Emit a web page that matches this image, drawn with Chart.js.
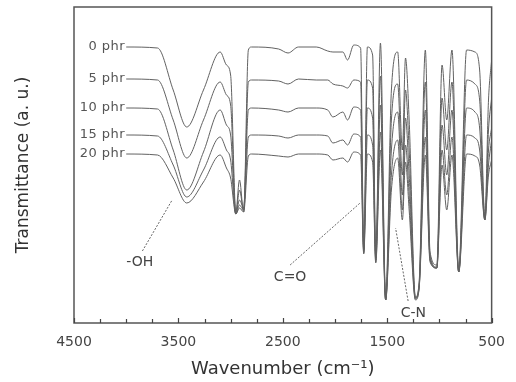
<!DOCTYPE html>
<html>
<head>
<meta charset="utf-8">
<script src="https://cdn.jsdelivr.net/npm/chart.js@4.4.1/dist/chart.umd.min.js"></script>
<style>
  html, body { margin: 0; padding: 0; background: #fff; }
  #wrap { width: 516px; height: 382px; }
</style>
</head>
<body>
<div id="wrap"><canvas id="ftirChart" width="516" height="382"></canvas></div>
<script>
// wavenumbers (cm-1) shared by all spectra
const wavenumbers = [4000, 3700, 3550, 3420, 3260, 3100, 3040, 3000, 2950, 2915, 2875, 2830, 2800, 2540, 2450, 2350, 2180, 2070, 2020, 1925, 1880, 1820, 1755, 1725, 1690, 1640, 1610, 1565, 1515, 1460, 1400, 1355, 1325, 1290, 1230, 1195, 1135, 1090, 1025, 975, 930, 880, 815, 740, 660, 615, 565, 530, 500];

const seriesNames = ['0 phr', '5 phr', '10 phr', '15 phr', '20 phr'];

// transmittance, arbitrary units (curves stacked with an offset)
const phr0  = [276, 275, 233, 196, 233, 271, 258, 248, 111, 143, 111, 273, 276, 274, 270, 276, 276, 272, 271, 271, 263, 278, 275, 75, 276, 268, 68, 280, 25, 233, 271, 173, 265, 203, 26, 40, 273, 71, 58, 258, 203, 273, 53, 273, 271, 253, 106, 223, 263];
const phr5  = [244, 243, 203, 165, 203, 241, 228, 218, 109, 133, 113, 241, 243, 242, 239, 244, 243, 243, 239, 237, 235, 243, 241, 73, 243, 235, 65, 247, 23, 203, 239, 148, 233, 173, 25, 38, 241, 68, 56, 225, 173, 241, 51, 243, 239, 223, 105, 193, 225];
const phr10 = [215, 214, 173, 133, 171, 213, 198, 188, 109, 123, 115, 213, 215, 213, 211, 215, 215, 213, 206, 211, 203, 216, 213, 71, 215, 205, 63, 218, 23, 173, 211, 128, 205, 148, 25, 36, 213, 65, 55, 198, 148, 213, 51, 215, 211, 195, 103, 173, 195];
const phr15 = [188, 187, 158, 126, 153, 186, 173, 163, 109, 118, 113, 186, 188, 187, 185, 188, 188, 187, 180, 183, 178, 189, 186, 70, 188, 178, 61, 191, 23, 148, 183, 113, 178, 128, 24, 35, 186, 63, 55, 173, 128, 186, 51, 188, 185, 173, 103, 158, 183];
const phr20 = [169, 168, 145, 120, 141, 168, 155, 145, 109, 115, 111, 167, 169, 167, 166, 169, 169, 168, 163, 165, 161, 171, 168, 69, 169, 161, 60, 173, 23, 133, 165, 103, 161, 113, 23, 34, 168, 61, 55, 158, 113, 168, 51, 169, 167, 158, 103, 148, 163];

const xLabels = [4500, 3500, 2500, 1500, 500];

// band labels: text, text position, pointer end (data coords)
const bands = [
  { text: '-OH', x: 3870, y: 61, from: [3845, 72], to: [3560, 123] },
  { text: 'C=O', x: 2430, y: 46, from: [2430, 58], to: [1760, 120] },
  { text: 'C-N', x: 1250, y: 10, from: [1300, 22], to: [1420, 95] }
];

const allSeries = [phr0, phr5, phr10, phr15, phr20];
const font = '"DejaVu Sans", Verdana, sans-serif';

const datasets = allSeries.map((vals, i) => ({
  label: seriesNames[i],
  data: wavenumbers.map((w, j) => ({ x: w, y: vals[j] })),
  borderColor: '#626262',
  borderWidth: 1,
  pointRadius: 0,
  fill: false,
  cubicInterpolationMode: 'monotone'
}));

const decorations = {
  id: 'decorations',
  afterDatasetsDraw(chart) {
    const ctx = chart.ctx;
    const a = chart.chartArea;
    const xs = chart.scales.x, ys = chart.scales.y;
    ctx.save();
    // frame
    ctx.strokeStyle = '#555';
    ctx.lineWidth = 1.5;
    ctx.strokeRect(a.left, a.top, a.right - a.left, a.bottom - a.top);
    // inward tick marks
    ctx.lineWidth = 1.2;
    ctx.strokeStyle = '#444';
    xs.ticks.forEach(t => {
      const px = Math.round(xs.getPixelForValue(t.value)) + 0.5;
      const len = xLabels.includes(t.value) ? 5 : 4;
      ctx.beginPath();
      ctx.moveTo(px, a.bottom);
      ctx.lineTo(px, a.bottom - len);
      ctx.stroke();
    });
    // series names
    ctx.fillStyle = '#555';
    ctx.font = '13px ' + font;
    if ('letterSpacing' in ctx) ctx.letterSpacing = '0.5px';
    ctx.textAlign = 'right';
    ctx.textBaseline = 'middle';
    allSeries.forEach((vals, i) => {
      ctx.fillText(seriesNames[i], xs.getPixelForValue(wavenumbers[0]) - 1, ys.getPixelForValue(vals[0]));
    });
    if ('letterSpacing' in ctx) ctx.letterSpacing = '0px';
    // band labels with dotted pointers
    ctx.textAlign = 'center';
    ctx.font = '14px ' + font;
    ctx.fillStyle = '#444';
    bands.forEach(b => {
      ctx.fillText(b.text, xs.getPixelForValue(b.x), ys.getPixelForValue(b.y));
      ctx.setLineDash([2, 1.5]);
      ctx.lineWidth = 1;
      ctx.strokeStyle = '#666';
      ctx.beginPath();
      ctx.moveTo(xs.getPixelForValue(b.from[0]), ys.getPixelForValue(b.from[1]));
      ctx.lineTo(xs.getPixelForValue(b.to[0]), ys.getPixelForValue(b.to[1]));
      ctx.stroke();
      ctx.setLineDash([]);
    });
    ctx.restore();
  }
};

new Chart(document.getElementById('ftirChart').getContext('2d'), {
  type: 'line',
  data: { datasets: datasets },
  options: {
    responsive: false,
    animation: false,
    events: [],
    layout: { padding: { top: 7, right: 21, left: 0, bottom: 0 } },
    plugins: { legend: { display: false }, tooltip: { enabled: false } },
    scales: {
      x: {
        type: 'linear',
        reverse: true,
        min: 500,
        max: 4500,
        afterFit: s => { s.height = 59; },
        grid: { display: false, drawTicks: false },
        border: { display: false },
        ticks: {
          stepSize: 250,
          autoSkip: false,
          maxRotation: 0,
          padding: 11,
          color: '#444',
          font: { family: font, size: 14 },
          callback: v => (xLabels.includes(v) ? String(v) : '')
        },
        title: {
          display: true,
          text: 'Wavenumber (cm\u207B\u00B9)',
          color: '#333',
          padding: { top: 0, bottom: 2 },
          font: { family: font, size: 18 }
        }
      },
      y: {
        min: 0,
        max: 316,
        afterFit: s => { s.width = 74; },
        grid: { display: false, drawTicks: false },
        border: { display: false },
        ticks: { display: false },
        title: {
          display: true,
          text: 'Transmittance (a. u.)',
          color: '#333',
          padding: { top: 13, bottom: 0 },
          font: { family: font, size: 17 }
        }
      }
    }
  },
  plugins: [decorations]
});
</script>
</body>
</html>
